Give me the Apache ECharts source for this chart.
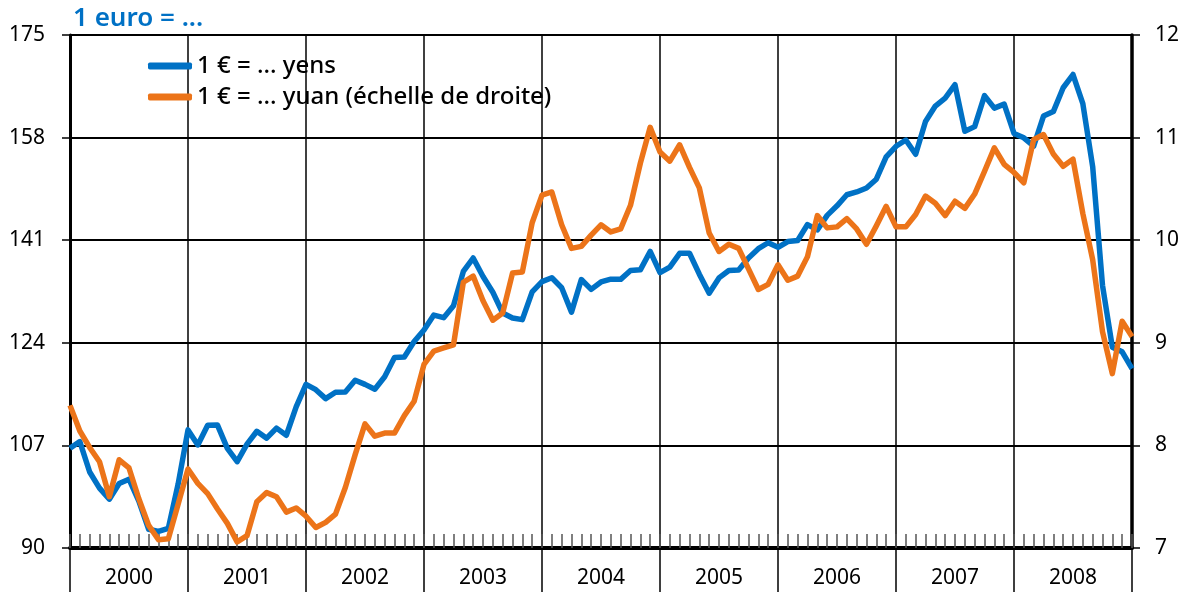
<!DOCTYPE html>
<html>
<head>
<meta charset="utf-8">
<script src="https://cdn.jsdelivr.net/npm/echarts@6/dist/echarts.min.js"></script>
<style>
  html, body { margin: 0; padding: 0; background: #fff; }
  #chart { width: 1187px; height: 595px; }
</style>
</head>
<body>
<div id="chart"></div>
<script>
// Monthly averages, Jan 2000 - Jan 2009
const years = ['2000', '2001', '2002', '2003', '2004', '2005', '2006', '2007', '2008'];

const months = [];
for (let y = 2000; y <= 2009; y++) {
  for (let m = 1; m <= 12; m++) {
    if (y === 2009 && m > 1) break;
    months.push(y + '-' + (m < 10 ? '0' + m : m));
  }
}

// 1 euro = ... yens (left scale)
const yens = [
  106.53, 107.64, 102.59, 99.92, 98.09, 100.70, 101.40, 97.77, 93.11, 92.75, 93.26, 100.61,
  109.57, 107.08, 110.33, 110.36, 106.50, 104.30, 107.21, 109.34, 108.20, 109.86, 108.68, 113.38,
  117.12, 116.23, 114.75, 115.81, 115.86, 117.80, 117.11, 116.31, 118.38, 121.57, 121.65, 124.20,
  126.12, 128.60, 128.16, 130.12, 135.83, 138.05, 134.99, 132.38, 128.94, 128.12, 127.84, 132.43,
  134.13, 134.78, 133.13, 129.08, 134.48, 132.86, 134.08, 134.54, 134.51, 135.97, 136.09, 139.14,
  135.63, 136.55, 138.83, 138.84, 135.37, 132.22, 134.75, 135.98, 136.06, 138.05, 139.59, 140.58,
  139.82, 140.77, 140.96, 143.59, 142.70, 145.11, 146.70, 148.53, 148.99, 149.65, 151.11, 154.82,
  156.56, 157.60, 155.24, 160.68, 163.22, 164.55, 166.76, 159.05, 159.82, 164.95, 162.89, 163.55,
  158.68, 157.97, 156.59, 161.56, 162.31, 166.26, 168.45, 163.63, 153.20, 133.52, 123.28, 122.51,
  119.73
];

// 1 euro = ... yuan (right scale)
const yuan = [
  8.39, 8.14, 7.98, 7.84, 7.50, 7.86, 7.78, 7.48, 7.22, 7.08, 7.09, 7.43,
  7.77, 7.63, 7.53, 7.38, 7.24, 7.06, 7.12, 7.45, 7.54, 7.50, 7.35, 7.39,
  7.31, 7.20, 7.25, 7.33, 7.59, 7.91, 8.21, 8.09, 8.12, 8.12, 8.29, 8.43,
  8.79, 8.92, 8.95, 8.98, 9.59, 9.65, 9.41, 9.22, 9.29, 9.68, 9.69, 10.17,
  10.44, 10.47, 10.15, 9.92, 9.94, 10.05, 10.15, 10.08, 10.11, 10.34, 10.75, 11.10,
  10.86, 10.77, 10.93, 10.71, 10.51, 10.07, 9.89, 9.96, 9.92, 9.72, 9.52, 9.57,
  9.76, 9.61, 9.65, 9.84, 10.24, 10.12, 10.13, 10.21, 10.11, 9.96, 10.14, 10.33,
  10.13, 10.13, 10.25, 10.43, 10.36, 10.24, 10.38, 10.31, 10.45, 10.67, 10.90, 10.74,
  10.66, 10.56, 10.98, 11.03, 10.84, 10.72, 10.79, 10.26, 9.81, 9.11, 8.70, 9.21,
  9.06
];

const blue = '#0071c5';
const orange = '#ec7419';
const fontName = 'Noto Sans';

var chart = echarts.init(document.getElementById('chart'));

var option = {
  backgroundColor: '#fff',
  animation: false,
  textStyle: { fontFamily: fontName },
  title: {
    text: '1 euro = ...',
    left: 68,
    top: 1,
    textStyle: { color: blue, fontSize: 26, fontWeight: 600, fontFamily: fontName }
  },
  legend: {
    orient: 'vertical',
    left: 143,
    top: 49,
    itemWidth: 44,
    itemHeight: 7,
    itemGap: 7,
    icon: 'roundRect',
    data: ['1 € = ... yens', '1 € = ... yuan (échelle de droite)'],
    textStyle: { color: '#000', fontSize: 24, fontWeight: 500, fontFamily: fontName }
  },
  grid: { left: 70, right: 55, top: 35, bottom: 47 },
  xAxis: [
    {
      type: 'category',
      data: months,
      boundaryGap: false,
      position: 'bottom',
      axisLine: { lineStyle: { color: '#000', width: 4 } },
      axisTick: { show: true, inside: true, length: 14, interval: 0, lineStyle: { color: '#555', width: 1.5 } },
      axisLabel: { show: false },
      splitLine: {
        show: true,
        interval: function (index) { return index % 12 === 0; },
        lineStyle: { color: '#000', width: 1.5 }
      }
    },
    {
      type: 'category',
      data: years,
      boundaryGap: true,
      position: 'bottom',
      axisLine: { show: false },
      axisTick: { show: true, length: 44, lineStyle: { color: '#000', width: 1.5 } },
      axisLabel: { margin: 20, fontSize: 21, color: '#000', fontFamily: fontName },
      splitLine: { show: false }
    }
  ],
  yAxis: [
    {
      type: 'value',
      min: 90,
      max: 175,
      interval: 17,
      position: 'left',
      axisLine: { show: true, lineStyle: { color: '#000', width: 3 } },
      axisTick: { show: true, length: 8, lineStyle: { color: '#000', width: 1.5 } },
      axisLabel: { margin: 25, fontSize: 21, color: '#000', fontFamily: fontName },
      splitLine: { show: true, lineStyle: { color: '#000', width: 2 } }
    },
    {
      type: 'value',
      min: 7,
      max: 12,
      interval: 1,
      position: 'right',
      axisLine: { show: true, lineStyle: { color: '#000', width: 3.5 } },
      axisTick: { show: true, length: 8, lineStyle: { color: '#000', width: 1.5 } },
      axisLabel: { margin: 23, fontSize: 21, color: '#000', fontFamily: fontName },
      splitLine: { show: false }
    }
  ],
  series: [
    {
      name: '1 € = ... yens',
      type: 'line',
      xAxisIndex: 0,
      yAxisIndex: 0,
      data: yens,
      showSymbol: false,
      symbol: 'none',
      lineStyle: { color: blue, width: 5.5, join: 'round' },
      itemStyle: { color: blue }
    },
    {
      name: '1 € = ... yuan (échelle de droite)',
      type: 'line',
      xAxisIndex: 0,
      yAxisIndex: 1,
      data: yuan,
      showSymbol: false,
      symbol: 'none',
      lineStyle: { color: orange, width: 5.5, join: 'round' },
      itemStyle: { color: orange }
    }
  ]
};

option && chart.setOption(option);
</script>
</body>
</html>
